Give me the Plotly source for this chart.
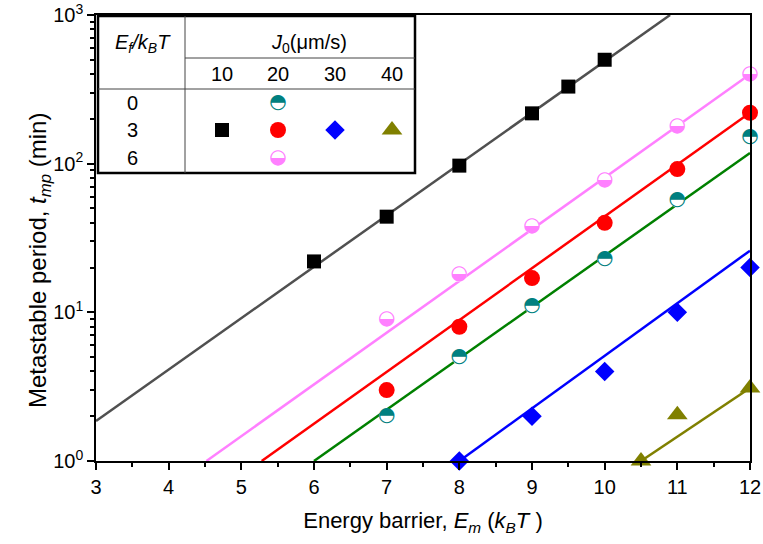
import plotly.graph_objects as go

# ---------------- data ----------------
x_black = [6, 7, 8, 9, 9.5, 10]
y_black = [22, 44, 97, 218, 330, 500]
x_pink = [7, 8, 9, 10, 11, 12]
y_pink = [9, 18, 38, 78, 180, 400]
x_red = [7, 8, 9, 10, 11, 12]
y_red = [3, 8, 17, 40, 92, 220]
x_teal = [7, 8, 9, 10, 11, 12]
y_teal = [2, 5, 11, 23, 57, 150]
x_blue = [8, 9, 10, 11, 12]
y_blue = [1, 2, 4, 10, 20]
x_olive = [10.5, 11, 12]
y_olive = [1, 2.05, 3.1]

# fitted lines (end points)
fit_black_x = [3, 10.9]
fit_black_y = [1.86, 1000]
fit_pink_x = [4.52, 12]
fit_pink_y = [1, 400]
fit_red_x = [5.28, 12]
fit_red_y = [1, 220]
fit_green_x = [6.0, 12]
fit_green_y = [1, 118]
fit_blue_x = [8.0, 12]
fit_blue_y = [1, 26]
fit_olive_x = [10.5, 12]
fit_olive_y = [1, 3.1]

y_tickvals = [1, 10, 100, 1000]
y_ticktext = ["10<sup>0</sup>", "10<sup>1</sup>", "10<sup>2</sup>", "10<sup>3</sup>"]
y_minor = [m * 10 ** e for e in range(0, 3) for m in range(2, 10)]

table_cols = ["10", "20", "30", "40"]
table_rows = ["0", "3", "6"]

# ---------------- styles ----------------
C_BLACKLINE = "#505050"
C_PINK = "#FF80FF"
C_RED = "#FF0000"
C_TEAL = "#008080"
C_GREEN = "#008000"
C_BLUE = "#0000FF"
C_OLIVE = "#808000"
FONT = "Liberation Sans, Arial, sans-serif"
GLYPH_FONT = "DejaVu Sans"
LW = 2.5
TICK_FS = 20
TITLE_FS = 22
YTITLE_FS = 24
TABLE_FS = 20

fig = go.Figure()

# fit lines
for fx, fy, col in [
    (fit_black_x, fit_black_y, C_BLACKLINE),
    (fit_pink_x, fit_pink_y, C_PINK),
    (fit_red_x, fit_red_y, C_RED),
    (fit_green_x, fit_green_y, C_GREEN),
    (fit_blue_x, fit_blue_y, C_BLUE),
    (fit_olive_x, fit_olive_y, C_OLIVE),
]:
    fig.add_trace(go.Scatter(x=fx, y=fy, mode="lines",
                             line=dict(color=col, width=LW),
                             showlegend=False, hoverinfo="skip"))


def half_circle(x, y, color, glyph, xa="x", ya="y", size=15, gsize=20):
    fig.add_trace(go.Scatter(x=x, y=y, mode="markers", xaxis=xa, yaxis=ya,
                             marker=dict(symbol="circle", size=size, color="white",
                                         line=dict(width=0)),
                             cliponaxis=False, showlegend=False, hoverinfo="skip"))
    fig.add_trace(go.Scatter(x=x, y=y, mode="text", xaxis=xa, yaxis=ya,
                             text=[glyph] * len(x), textposition="middle center",
                             textfont=dict(family=GLYPH_FONT, size=gsize, color=color),
                             cliponaxis=False, showlegend=False, hoverinfo="skip"))


def solid(x, y, color, symbol, size, xa="x", ya="y"):
    fig.add_trace(go.Scatter(x=x, y=y, mode="markers", xaxis=xa, yaxis=ya,
                             marker=dict(symbol=symbol, size=size, color=color,
                                         line=dict(width=0)),
                             cliponaxis=False, showlegend=False, hoverinfo="skip"))


solid(x_black, y_black, "black", "square", 14)
half_circle(x_pink, y_pink, C_PINK, "\u25D2")
solid(x_red, y_red, C_RED, "circle", 16)
half_circle(x_teal, y_teal, C_TEAL, "\u25D3")
solid(x_blue, y_blue, C_BLUE, "diamond", 15)
solid(x_olive, y_olive, C_OLIVE, "triangle-up", 18)

# ---------------- legend table (overlay axes in pixel units) ----------------
col_x = [222, 278, 335, 392]
row_y = [103, 130, 158]
solid([col_x[0]], [row_y[1]], "black", "square", 14, "x2", "y2")
half_circle([col_x[1]], [row_y[0]], C_TEAL, "\u25D3", "x2", "y2")
solid([col_x[1]], [row_y[1]], C_RED, "circle", 16, "x2", "y2")
half_circle([col_x[1]], [row_y[2]], C_PINK, "\u25D2", "x2", "y2")
solid([col_x[2]], [row_y[1]], C_BLUE, "diamond", 15, "x2", "y2")
solid([col_x[3]], [row_y[1]], C_OLIVE, "triangle-up", 18, "x2", "y2")

shapes = [
    dict(type="rect", xref="x2", yref="y2", x0=98, x1=415, y0=16, y1=173,
         line=dict(color="black", width=2.5), fillcolor="white", layer="below"),
    dict(type="line", xref="x2", yref="y2", x0=185, x1=185, y0=16, y1=173,
         line=dict(color="#444", width=1)),
    dict(type="line", xref="x2", yref="y2", x0=185, x1=415, y0=58, y1=58,
         line=dict(color="#444", width=1)),
    dict(type="line", xref="x2", yref="y2", x0=98, x1=415, y0=89, y1=89,
         line=dict(color="#444", width=1)),
]

ann = [
    dict(x=143, y=43, text="<i>E</i><sub><i>f</i></sub><i>/k</i><sub><i>B</i></sub><i>T</i>"),
    dict(x=309, y=43, text="<i>J</i><sub>0</sub>(\u03bcm/s)"),
]
for cx, lab in zip(col_x, table_cols):
    ann.append(dict(x=cx, y=74, text=lab))
for ry, lab in zip(row_y, table_rows):
    ann.append(dict(x=132, y=ry, text=lab))
annotations = [dict(a, xref="x2", yref="y2", showarrow=False,
                    font=dict(family=FONT, size=TABLE_FS, color="black"),
                    xanchor="center", yanchor="middle") for a in ann]

# y-axis title as a rotated annotation
annotations.append(dict(
    xref="paper", yref="paper", x=-0.086, y=0.45, showarrow=False,
    text="Metastable period, <i>t</i><sub><i>mp</i></sub> (min)",
    textangle=-90, xanchor="center", yanchor="middle",
    font=dict(family=FONT, size=YTITLE_FS, color="black")))

axis_common = dict(showline=True, linecolor="black", linewidth=1.5, mirror=True,
                   showgrid=False, zeroline=False, ticks="outside",
                   tickcolor="black", tickwidth=1.5, ticklen=7, automargin=False,
                   tickfont=dict(family=FONT, size=TICK_FS, color="black"))

fig.update_layout(
    width=763, height=544,
    margin=dict(l=96, r=13, t=15, b=83),
    paper_bgcolor="white", plot_bgcolor="white",
    font=dict(family=FONT, size=TICK_FS, color="black"),
    xaxis=dict(range=[3, 12], dtick=1, tick0=3,
               minor=dict(dtick=0.5, ticks="outside", ticklen=4,
                          tickcolor="black", tickwidth=1.5),
               title=dict(text="Energy barrier, <i>E</i><sub><i>m</i></sub> (<i>k</i><sub><i>B</i></sub><i>T</i> )",
                          font=dict(family=FONT, size=TITLE_FS), standoff=16),
               **axis_common),
    yaxis=dict(type="log", range=[0, 3], tickvals=y_tickvals, ticktext=y_ticktext,
               minor=dict(tickvals=y_minor, ticks="outside", ticklen=4,
                          tickcolor="black", tickwidth=1.5),
               **axis_common),
    xaxis2=dict(overlaying="x", anchor="y2", range=[96, 750], visible=False,
                fixedrange=True),
    yaxis2=dict(overlaying="y", anchor="x2", range=[461, 15], visible=False,
                fixedrange=True),
    shapes=shapes,
    annotations=annotations,
)

fig.write_html("out.html", config={"displayModeBar": False},
               post_script="document.body.style.margin='0';document.body.style.overflow='hidden';")
